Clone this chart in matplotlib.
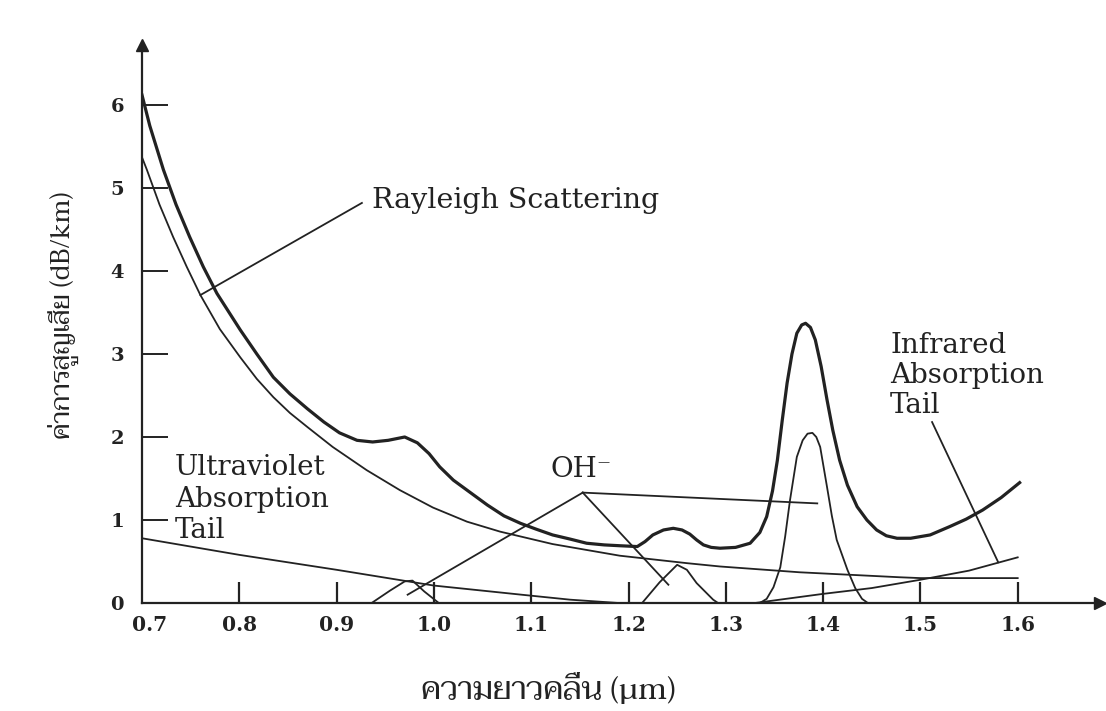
import matplotlib.pyplot as plt
from matplotlib import font_manager

# ค่าการสูญเสียรวม (dB/km) อ่านจากรูป
total_x = [0.700, 0.708, 0.722, 0.735, 0.749, 0.763, 0.777, 0.801, 0.818, 0.835,
           0.852, 0.870, 0.887, 0.903, 0.921, 0.937, 0.953, 0.970, 0.983, 0.995,
           1.006, 1.020, 1.034, 1.055, 1.072, 1.089, 1.105, 1.122, 1.140, 1.157,
           1.175, 1.191, 1.209, 1.217, 1.225, 1.236, 1.246, 1.255, 1.263, 1.270,
           1.277, 1.285, 1.294, 1.310, 1.325, 1.335, 1.342, 1.348, 1.353, 1.358,
           1.363, 1.368, 1.373, 1.378, 1.382, 1.387, 1.392, 1.398, 1.404, 1.410,
           1.417, 1.425, 1.435, 1.445, 1.455, 1.465, 1.476, 1.490, 1.510, 1.530,
           1.547, 1.564, 1.583, 1.602]
total_y = [6.12, 5.75, 5.22, 4.80, 4.41, 4.05, 3.73, 3.29, 3.00, 2.72,
           2.52, 2.34, 2.18, 2.05, 1.96, 1.94, 1.96, 2.00, 1.93, 1.80,
           1.64, 1.48, 1.36, 1.18, 1.05, 0.96, 0.89, 0.82, 0.77, 0.72,
           0.70, 0.69, 0.68, 0.74, 0.82, 0.88, 0.90, 0.88, 0.83, 0.76,
           0.70, 0.67, 0.66, 0.67, 0.72, 0.85, 1.04, 1.35, 1.72, 2.20,
           2.65, 3.00, 3.25, 3.35, 3.37, 3.32, 3.17, 2.85, 2.45, 2.08,
           1.72, 1.42, 1.16, 1.00, 0.88, 0.81, 0.78, 0.78, 0.82, 0.92,
           1.01, 1.12, 1.27, 1.45]

rayleigh_x = [0.700, 0.705, 0.718, 0.732, 0.746, 0.760, 0.780, 0.801, 0.818, 0.835,
              0.852, 0.870, 0.896, 0.931, 0.965, 0.999, 1.034, 1.068, 1.122, 1.191,
              1.260, 1.294, 1.376, 1.479, 1.500, 1.600]
rayleigh_y = [5.37, 5.22, 4.80, 4.41, 4.05, 3.71, 3.30, 2.96, 2.70, 2.48,
              2.29, 2.12, 1.88, 1.60, 1.36, 1.15, 0.98, 0.86, 0.71, 0.57,
              0.48, 0.44, 0.37, 0.31, 0.30, 0.30]

uv_x = [0.70, 0.80, 0.90, 1.00, 1.09, 1.14, 1.19]
uv_y = [0.78, 0.58, 0.40, 0.21, 0.10, 0.04, 0.00]

ir_x = [1.33, 1.40, 1.45, 1.50, 1.55, 1.60]
ir_y = [0.00, 0.11, 0.18, 0.28, 0.39, 0.55]

# ยอด OH- ที่ 0.95, 1.24, 1.39 µm
oh1_x = [0.936, 0.955, 0.970, 0.978, 0.990, 1.005]
oh1_y = [0.00, 0.15, 0.26, 0.27, 0.14, 0.00]

oh2_x = [1.214, 1.232, 1.250, 1.260, 1.270, 1.287, 1.292]
oh2_y = [0.00, 0.25, 0.46, 0.40, 0.24, 0.04, 0.00]

oh3_x = [1.335, 1.342, 1.349, 1.356, 1.361, 1.366, 1.373, 1.379, 1.384, 1.389,
         1.393, 1.397, 1.404, 1.409, 1.414, 1.425, 1.433, 1.440, 1.446]
oh3_y = [0.00, 0.05, 0.19, 0.43, 0.80, 1.24, 1.76, 1.96, 2.04, 2.05,
         2.00, 1.88, 1.40, 1.05, 0.76, 0.40, 0.18, 0.05, 0.00]

x_ticks = [0.8, 0.9, 1.0, 1.1, 1.2, 1.3, 1.4, 1.5, 1.6]
x_labels = [0.7, 0.8, 0.9, 1.0, 1.1, 1.2, 1.3, 1.4, 1.5, 1.6]
y_ticks = [0, 1, 2, 3, 4, 5, 6]

# เส้นชี้ป้ายกำกับ
oh_apex = (1.153, 1.33)
oh_ends = [(0.973, 0.10), (1.241, 0.22), (1.394, 1.20)]
rayleigh_leader = [(0.760, 3.71), (0.926, 4.82)]
ir_leader = [(1.512, 2.18), (1.580, 0.49)]

# ฟอนต์ไทย
installed = {f.name for f in font_manager.fontManager.ttflist}
thai = [f for f in ['Taviraj', 'Trirong', 'Noto Serif Thai', 'FreeSerif',
                    'IBM Plex Sans Thai Looped'] if f in installed] + ['DejaVu Serif']
serif = 'DejaVu Serif'
ink = '#222222'

fig = plt.figure(figsize=(11.06, 7.11), dpi=100)
ax = fig.add_axes([142 / 1106, 108 / 711, 958 / 1106, 558 / 711])
ax.set_xlim(0.7, 0.7 + 958 / 973)
ax.set_ylim(0, 558 / 83)

ax.plot(total_x, total_y, color=ink, lw=2.3, solid_joinstyle='round')
ax.plot(rayleigh_x, rayleigh_y, color=ink, lw=1.3)
ax.plot(uv_x, uv_y, color=ink, lw=1.3)
ax.plot(ir_x, ir_y, color=ink, lw=1.3)
for xs, ys in [(oh1_x, oh1_y), (oh2_x, oh2_y), (oh3_x, oh3_y)]:
    ax.plot(xs, ys, color=ink, lw=1.3)

for end in oh_ends:
    ax.plot([oh_apex[0], end[0]], [oh_apex[1], end[1]], color=ink, lw=1.3)
ax.plot(*zip(*rayleigh_leader), color=ink, lw=1.3)
ax.plot(*zip(*ir_leader), color=ink, lw=1.3)

# แกนพร้อมหัวลูกศร
for s in ['top', 'right']:
    ax.spines[s].set_visible(False)
for s in ['left', 'bottom']:
    ax.spines[s].set_linewidth(1.6)
    ax.spines[s].set_color(ink)
ax.plot(1, 0, '>', color=ink, ms=9, transform=ax.get_yaxis_transform(), clip_on=False)
ax.plot(0.7, 1, '^', color=ink, ms=9, transform=ax.get_xaxis_transform(), clip_on=False)

ax.set_xticks(x_ticks)
ax.set_xticklabels([])
ax.tick_params(axis='x', direction='in', length=15, width=1.6, color=ink)
ax.set_yticks(y_ticks)
ax.set_yticklabels([str(v) for v in y_ticks], fontfamily=serif, fontweight='bold',
                   fontsize=14, color=ink)
ax.tick_params(axis='y', direction='in', length=19, width=1.4, color=ink, pad=13)
for v in x_labels:
    ax.text(v + (0.008 if v == 0.7 else 0.0), -0.27, f'{v:.1f}', ha='center',
            va='center', fontfamily=serif, fontweight='bold', fontsize=14.5, color=ink)

fs = 20
ax.text(0.936, 4.76, 'Rayleigh Scattering', fontfamily=serif, fontsize=fs + 0.5,
        color=ink, va='baseline')
ax.text(0.734, 1.79, 'Ultraviolet\nAbsorption\nTail', fontfamily=serif, fontsize=fs,
        color=ink, va='top', linespacing=1.2)
ax.text(1.151, 1.61, 'OH⁻', fontfamily=serif, fontsize=fs, color=ink,
        ha='center', va='center')
ax.text(1.469, 3.27, 'Infrared\nAbsorption\nTail', fontfamily=serif, fontsize=fs,
        color=ink, va='top', linespacing=1.15)

fig.text(63 / 1106, 1 - 315 / 711, 'ค่าการสูญเสีย (dB/km)', rotation=90,
         ha='center', va='center', fontsize=19, family=thai, color=ink)
fig.text(548 / 1106, 1 - 690 / 711, 'ความยาวคลื่น (μm)', ha='center', va='center',
         fontsize=23, family=thai, color=ink)

fig.savefig('out.png', dpi=100)
